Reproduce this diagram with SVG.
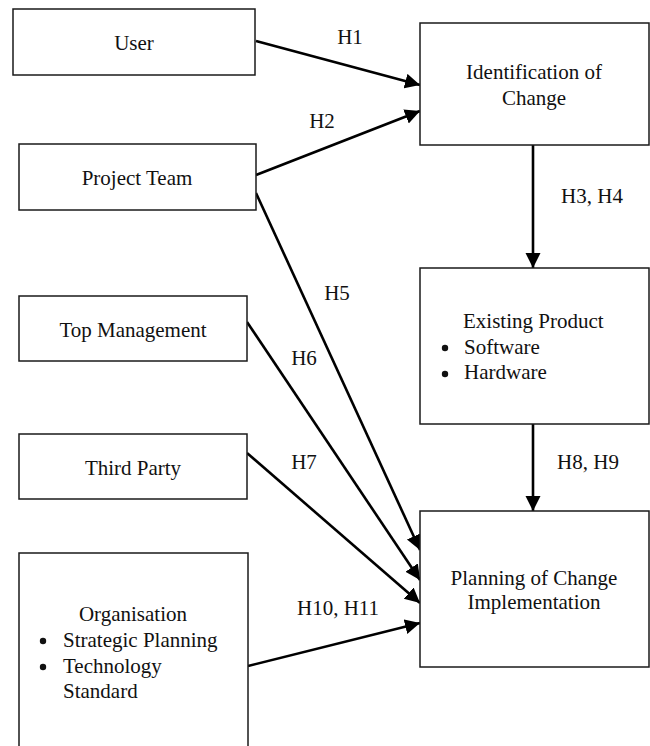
<svg xmlns="http://www.w3.org/2000/svg" width="650" height="746" viewBox="0 0 650 746" font-family="Liberation Serif, Times New Roman, DejaVu Serif, serif">
  <style>
    .box { fill: #ffffff; stroke: #1a1a1a; stroke-width: 1.5; }
    .lbl { font-family: 'Liberation Serif', 'Times New Roman', 'DejaVu Serif', serif; font-size: 21px; fill: #111111; }
    .mid { text-anchor: middle; }
    .edge { stroke: #000000; stroke-width: 2.6; fill: none; marker-end: url(#arrow); }
  </style>
  <defs>
    <marker id="arrow" markerUnits="userSpaceOnUse" markerWidth="16" markerHeight="16" refX="15" refY="7.5" orient="auto">
      <path d="M0,0 L15,7.5 L0,15 Z" fill="#000000"/>
    </marker>
  </defs>

  <rect width="650" height="746" fill="#ffffff"/>

  <!-- connectors -->
  <g id="connectors">
    <line class="edge" x1="256" y1="41" x2="420" y2="85"/>
    <line class="edge" x1="256" y1="175" x2="420" y2="111"/>
    <line class="edge" x1="533" y1="145" x2="533" y2="268"/>
    <line class="edge" x1="256" y1="193" x2="420" y2="550"/>
    <line class="edge" x1="247" y1="322" x2="420" y2="580"/>
    <line class="edge" x1="247" y1="453" x2="420" y2="603"/>
    <line class="edge" x1="533" y1="424" x2="533" y2="511"/>
    <line class="edge" x1="248" y1="666" x2="420" y2="623"/>

    <text class="lbl mid" x="350" y="44">H1</text>
    <text class="lbl mid" x="322" y="128">H2</text>
    <text class="lbl mid" x="592" y="203">H3, H4</text>
    <text class="lbl mid" x="337" y="300">H5</text>
    <text class="lbl mid" x="304" y="365">H6</text>
    <text class="lbl mid" x="304" y="469">H7</text>
    <text class="lbl mid" x="588" y="469">H8, H9</text>
    <text class="lbl mid" x="338" y="615">H10, H11</text>
  </g>

  <!-- nodes -->
  <g id="user">
    <rect class="box" x="13" y="9" width="242" height="66"/>
    <text class="lbl mid" x="134" y="50">User</text>
  </g>

  <g id="project-team">
    <rect class="box" x="19" y="144" width="237" height="66"/>
    <text class="lbl mid" x="137" y="185">Project Team</text>
  </g>

  <g id="top-management">
    <rect class="box" x="19" y="296" width="228" height="65"/>
    <text class="lbl mid" x="133" y="337">Top Management</text>
  </g>

  <g id="third-party">
    <rect class="box" x="19" y="434" width="228" height="65"/>
    <text class="lbl mid" x="133" y="475">Third Party</text>
  </g>

  <g id="organisation">
    <rect class="box" x="19" y="553" width="229" height="200"/>
    <text class="lbl mid" x="133" y="621">Organisation</text>
    <circle cx="43" cy="641" r="3.2" fill="#111111"/>
    <text class="lbl" x="63" y="647">Strategic Planning</text>
    <circle cx="43" cy="667" r="3.2" fill="#111111"/>
    <text class="lbl" x="63" y="673">Technology</text>
    <text class="lbl" x="63" y="698">Standard</text>
  </g>

  <g id="identification-of-change">
    <rect class="box" x="420" y="23" width="229" height="122"/>
    <text class="lbl mid" x="534" y="79">Identification of</text>
    <text class="lbl mid" x="534" y="105">Change</text>
  </g>

  <g id="existing-product">
    <rect class="box" x="420" y="268" width="229" height="156"/>
    <text class="lbl" x="463" y="328">Existing Product</text>
    <circle cx="445" cy="348" r="3.2" fill="#111111"/>
    <text class="lbl" x="464" y="354">Software</text>
    <circle cx="445" cy="374" r="3.2" fill="#111111"/>
    <text class="lbl" x="464" y="379">Hardware</text>
  </g>

  <g id="planning-of-change-implementation">
    <rect class="box" x="420" y="511" width="229" height="156"/>
    <text class="lbl mid" x="534" y="585">Planning of Change</text>
    <text class="lbl mid" x="534" y="609">Implementation</text>
  </g>
</svg>
